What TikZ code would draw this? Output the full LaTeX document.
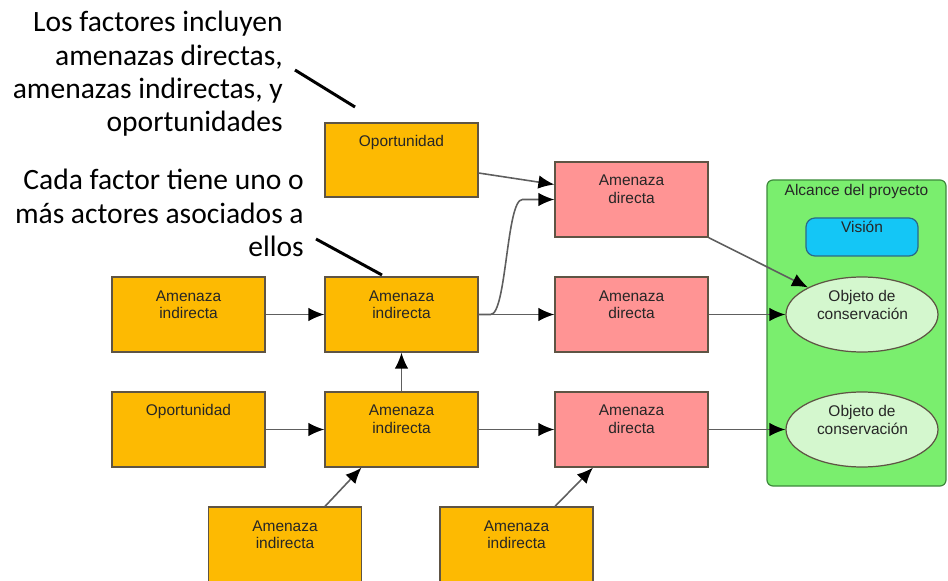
\documentclass[tikz,border=0pt]{standalone}
\usepackage{fontspec}
\setmainfont{Liberation Sans}
\newfontfamily\notefont{Carlito}
\usepackage{tikz}
\usetikzlibrary{positioning, arrows.meta, shapes.geometric, calc}
\definecolor{ambar}{HTML}{FDBA02}
\definecolor{rosa}{HTML}{FF9494}
\definecolor{borde}{HTML}{5E5444}
\definecolor{zona}{HTML}{7AEE6E}
\definecolor{zonaborde}{HTML}{3E8A3C}
\definecolor{celeste}{HTML}{14C6F6}
\definecolor{celesteborde}{HTML}{2C6A86}
\definecolor{objeto}{HTML}{D4F7CE}
\definecolor{linea}{HTML}{5E5E5E}
% one pixel of the reference
\newlength{\pxu}\setlength{\pxu}{0.02cm}
% text set at the top of a box: width, height, first baseline, text
\newcommand{\boxtext}[4]{\parbox[c][#2\pxu][t]{#1\pxu}{\centering\rule{0pt}{#3\pxu}#4}}

\begin{document}
\begin{tikzpicture}[x=0.02cm, y=-0.02cm,
  fact/.style={draw=borde, fill=ambar, line width=0.7pt, inner sep=0pt, text=black!85,
    font=\fontsize{8.8}{9.7}\selectfont},
  direct/.style={fact, fill=rosa},
  target/.style={ellipse, draw=borde, fill=objeto, line width=0.7pt, inner sep=0pt,
    minimum width=152\pxu, minimum height=75\pxu, text=black!85,
    font=\fontsize{8.8}{9.7}\selectfont},
  link/.style={-{Latex[length=0.32cm,width=0.27cm,black]}, draw=linea, line width=0.9pt},
  note/.style={font=\notefont\fontsize{16.8}{19}\selectfont, align=right, inner sep=0pt},
  pointer/.style={draw=black, line width=1.7pt}]
\useasboundingbox (0,0) rectangle (948,581);
% project scope
\node[draw=zonaborde, fill=zona, line width=0.7pt, rounded corners=6\pxu, inner sep=0pt,
  font=\fontsize{8.8}{9.7}\selectfont, text=black!85] (alcance) at (856.5,333)
  {\boxtext{179}{306}{15}{Alcance del proyecto}};
\node[draw=celesteborde, fill=celeste, line width=0.7pt, rounded corners=9\pxu, inner sep=0pt,
  font=\fontsize{8.8}{9.7}\selectfont, text=black!85] (vision) at (862,237)
  {\boxtext{112}{38}{15}{Visión}};
\node[target] (obj1) at (862,314.5) {\boxtext{90}{50}{12.5}{Objeto de\\conservación}};
\node[target] (obj2) at (862,429.5) {\boxtext{90}{50}{12.5}{Objeto de\\conservación}};
% factors
\node[fact] (opTop) at (401.5,160) {\boxtext{153}{74}{24}{Oportunidad}};
\node[direct] (dirTop) at (631.5,199.5) {\boxtext{153}{75}{24}{Amenaza\\directa}};
\node[fact] (indL1) at (188.5,314.5) {\boxtext{153}{75}{24}{Amenaza\\indirecta}};
\node[fact] (indM1) at (401.5,314.5) {\boxtext{153}{75}{24}{Amenaza\\indirecta}};
\node[direct] (dir1) at (631.5,314.5) {\boxtext{153}{75}{24}{Amenaza\\directa}};
\node[fact] (opL2) at (188.5,429.5) {\boxtext{153}{75}{24}{Oportunidad}};
\node[fact] (indM2) at (401.5,429.5) {\boxtext{153}{75}{24}{Amenaza\\indirecta}};
\node[direct] (dir2) at (631.5,429.5) {\boxtext{153}{75}{24}{Amenaza\\directa}};
\node[fact] (indB1) at (285,544.5) {\boxtext{153}{75}{24}{Amenaza\\indirecta}};
\node[fact] (indB2) at (516.5,544.5) {\boxtext{153}{75}{24}{Amenaza\\indirecta}};
% links
\draw[link] ($(opTop.east)+(0,13)$) -- ($(dirTop.west)+(0,-15)$);
\draw[link] (indM1.east) -- ++(12,0) .. controls +(16,0) and +(-16,0) .. ($(dirTop.west)+(-32,0)$) -- (dirTop.west);
\draw[link] (indM1.east) -- (dir1.west);
\draw[link] (indL1.east) -- (indM1.west);
\draw[link] (opL2.east) -- (indM2.west);
\draw[link] (indM2.east) -- (dir2.west);
\draw[link] (indM2.north) -- (indM1.south);
\draw[link] ($(indB1.north)+(40,0)$) -- ($(indM2.south)+(-40,0)$);
\draw[link] ($(indB2.north)+(38.5,0)$) -- ($(dir2.south)+(-38.5,0)$);
\draw[link] (dirTop.south east) -- (obj1);
\draw[link] (dir1.east) -- (obj1.west);
\draw[link] (dir2.east) -- (obj2.west);
% notes
\node[note, anchor=north east] (note1) at (283,11)
  {Los factores incluyen\\amenazas directas,\\amenazas indirectas, y\\oportunidades};
\node[note, anchor=north east] (note2) at (304,169)
  {Cada factor tiene uno o\\más actores asociados a\\ellos};
\coordinate (p1a) at (295,70);
\coordinate (p1b) at (355,107);
\coordinate (p2a) at (316,239);
\coordinate (p2b) at (382,275);
\draw[pointer] (p1a) -- (p1b);
\draw[pointer] (p2a) -- (p2b);
\end{tikzpicture}
\end{document}
